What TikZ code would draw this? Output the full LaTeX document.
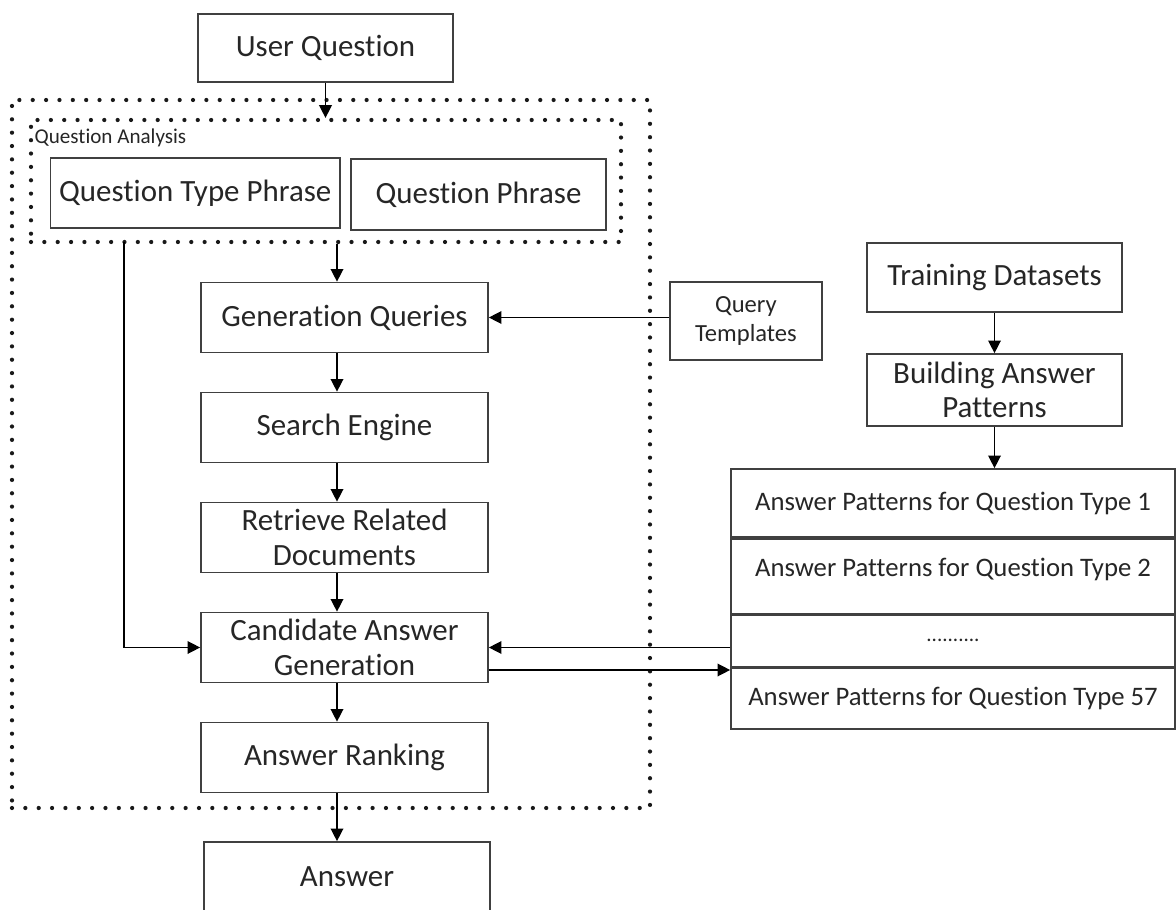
\documentclass[tikz,border=0pt]{standalone}
\usepackage{fontspec}
\setmainfont{Carlito}[Ligatures=NoCommon]
\usetikzlibrary{positioning,arrows.meta}
\tikzstyle{block} = [draw=black!75, line width=1.2pt, rectangle, align=center,
    text=black!85, font=\fontsize{22}{25}\selectfont,
    minimum width=7.175cm, minimum height=1.75cm, inner sep=2pt]
\tikzstyle{row} = [draw=black!75, line width=1.2pt, rectangle, text=black!85,
    font=\fontsize{19}{22}\selectfont, minimum width=11.1cm, inner sep=0pt]
\tikzstyle{group} = [draw=black!90, line width=3pt, rectangle, inner sep=0pt,
    dash pattern=on 0pt off 9.5pt, line cap=round]
\tikzstyle{axis} = [coordinate]

\begin{document}
\begin{tikzpicture}[auto, node distance=2.75cm, line width=1pt,
    >={Triangle[length=9pt,width=9pt]}]
    \useasboundingbox (0,0) rectangle (29.4,-22.75);
    \node [group, minimum width=15.95cm, minimum height=17.7cm] (outer) at (8.275,-11.35) {};
    \node [group, minimum width=14.75cm, minimum height=3.05cm] (qabox) at (8.15,-4.525) {};
    \node [anchor=west, inner sep=0pt, text=black!85, font=\fontsize{15}{17}\selectfont] (qalabel) at (0.85,-3.45) {Question Analysis};
    \node [block, minimum width=6.375cm, minimum height=1.7cm] (uq) at (8.1375,-1.2) {User Question};
    \node [block, minimum width=7.2375cm] (qtp) at (4.881,-4.825) {Question Type Phrase};
    \node [block, minimum width=6.375cm, minimum height=1.775cm] (qp) at (11.9625,-4.8625) {Question Phrase};
    \node [block] (gen) at (8.6125,-7.9375) {Generation Queries};
    \node [block, below of=gen] (search) {Search Engine};
    \node [block, below of=search] (ret) {Retrieve Related\\Documents};
    \node [block, below of=ret] (cand) {Candidate Answer\\Generation};
    \node [block, below of=cand] (rank) {Answer Ranking};
    \node [block, minimum width=7.15cm] (ans) at (8.675,-21.925) {Answer};
    \node [block, minimum width=3.8cm, minimum height=1.95cm, font=\fontsize{17.5}{21}\selectfont] (qt) at (18.65,-8.025) {Query\\Templates};
    \node [block, minimum width=6.375cm, minimum height=1.725cm] (train) at (24.8625,-6.9375) {Training Datasets};
    \node [block, minimum width=6.375cm, minimum height=1.8cm, font=\fontsize{22}{24}\selectfont] (build) at (24.8625,-9.75) {Building Answer\\Patterns};
    \node [row, minimum height=1.7cm] (r1) at (23.825,-12.575) {Answer Patterns for Question Type 1};
    \node [row, minimum height=1.875cm, text depth=0.42cm, below=0pt of r1] (r2) {Answer Patterns for Question Type 2};
    \node [row, minimum height=1.275cm, font=\fontsize{15}{17}\selectfont, below=0pt of r2] (r3) {..........};
    \node [row, minimum height=1.525cm, below=0pt of r3] (r4) {Answer Patterns for Question Type 57};
    \node [axis] (spine) at (8.425,0) {};
    \node [axis] (tap) at (3.1,-6.05) {};
    \draw [->] (uq) -- (uq |- qabox.north);
    \draw [->] (qabox.south -| spine) -- (gen.north -| spine);
    \draw [->] (gen.south -| spine) -- (search.north -| spine);
    \draw [->] (search.south -| spine) -- (ret.north -| spine);
    \draw [->] (ret.south -| spine) -- (cand.north -| spine);
    \draw [->] (cand.south -| spine) -- (rank.north -| spine);
    \draw [->] (rank.south -| spine) -- (ans.north -| spine);
    \draw [->] (qt.west |- gen.east) -- (gen.east);
    \draw [->] (tap) |- (cand.west);
    \draw [->] (train) -- (build);
    \draw [->] (build) -- (build |- r1.north);
    \draw [->] (r3.west |- cand.east) -- (cand.east);
    \draw [->] ([yshift=-0.5625cm]cand.east) -- ([yshift=-0.5625cm]cand.east -| r4.west);
\end{tikzpicture}
\end{document}
